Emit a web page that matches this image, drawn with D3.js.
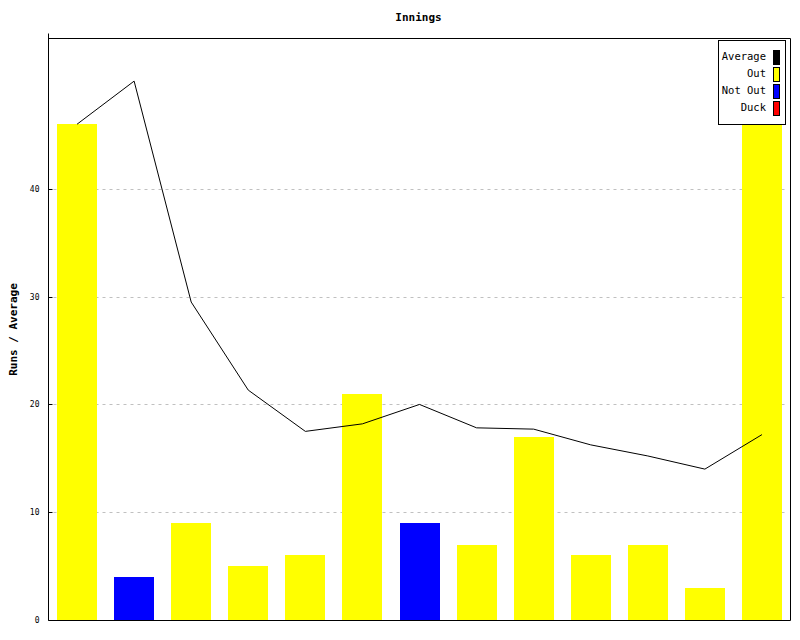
<!DOCTYPE html>
<html><head><meta charset="utf-8">
<script src="https://cdn.jsdelivr.net/npm/d3@7/dist/d3.min.js"></script>
<style>body{margin:0;background:#fff}svg{display:block}</style>
</head><body><svg id="c" width="800" height="640"></svg>
<script>
const innings = ["1","2","3","4","5","6","7","8","9","10","11","12","13"];
const runs = [46, 4, 9, 5, 6, 21, 9, 7, 17, 6, 7, 3, 46];
const status = ["Out","Not Out","Out","Out","Out","Out","Not Out","Out","Out","Out","Out","Out","Out"];
const average = [46, 50, 29.5, 21.33, 17.5, 18.2, 20, 17.83, 17.71, 16.25, 15.22, 14, 17.2];
const yTicks = [0, 10, 20, 30, 40];
const legendItems = ["Average", "Out", "Not Out", "Duck"];
const legendColors = {"Average":"#000000","Out":"#ffff00","Not Out":"#0000ff","Duck":"#ff0000"};

const svg = d3.select("#c");
const L = 48.5, R = 790.5, T = 38.5, B = 620.5;
const x = d3.scaleBand().domain(innings).range([L, R]).paddingInner(0.3).paddingOuter(0.15);
const y = d3.scaleLinear().domain([0, 54]).range([620, 38]);
const mono = "'DejaVu Sans Mono', 'Liberation Mono', monospace";

// gridlines
svg.append("g").selectAll("line").data(yTicks.filter(d => d > 0)).join("line")
  .attr("x1", L + 5).attr("x2", R - 2)
  .attr("y1", d => Math.round(y(d)) + 0.5).attr("y2", d => Math.round(y(d)) + 0.5)
  .attr("stroke", "#c0c0c0").attr("stroke-dasharray", "3,4");

// bars
svg.append("g").selectAll("rect").data(innings).join("rect")
  .attr("x", d => Math.round(x(d)))
  .attr("width", Math.round(x.bandwidth()))
  .attr("y", (d, i) => Math.round(y(runs[i])))
  .attr("height", (d, i) => 620 - Math.round(y(runs[i])))
  .attr("fill", (d, i) => legendColors[runs[i] === 0 ? "Duck" : status[i]]);

// average line
const line = d3.line().x((d, i) => x(innings[i]) + x.bandwidth() / 2).y(d => y(d));
svg.append("path").datum(average).attr("d", line)
  .attr("fill", "none").attr("stroke", "#000").attr("stroke-width", 1);

// plot frame
svg.append("path").attr("d", `M${L},${T - 5}V${B}H${R}V${T}H${L}`)
  .attr("fill", "none").attr("stroke", "#000").attr("stroke-width", 1);

// y axis
const yAxis = d3.axisLeft(y).tickValues(yTicks).tickSize(5).tickFormat(d3.format("d"));
const ga = svg.append("g").attr("transform", `translate(${L},0)`).call(yAxis);
ga.select(".domain").remove();
ga.selectAll(".tick").attr("transform", d => `translate(0,${Math.round(y(d)) + 0.5})`);
ga.selectAll(".tick line").attr("x2", 4).attr("stroke", "#000");
ga.selectAll(".tick text").attr("font-family", mono).attr("font-size", 8).attr("x", -9).attr("fill", "#000");

// title
svg.append("text").attr("x", (L + R) / 2 - 1).attr("y", 21).attr("text-anchor", "middle")
  .attr("font-family", mono).attr("font-weight", "bold").attr("font-size", 11).text("Innings");

// y label
svg.append("text").attr("transform", `translate(17,${(T + B) / 2}) rotate(-90)`)
  .attr("text-anchor", "middle").attr("font-family", mono).attr("font-weight", "bold")
  .attr("font-size", 11).text("Runs / Average");

// legend
const lg = svg.append("g");
lg.append("rect").attr("x", 718.5).attr("y", 40.5).attr("width", 67).attr("height", 84)
  .attr("fill", "#fff").attr("stroke", "#000");
legendItems.forEach((k, i) => {
  const cy = 57.5 + i * 17;
  lg.append("text").attr("x", 766).attr("y", cy + 2.5).attr("text-anchor", "end")
    .attr("font-family", mono).attr("font-size", 10.5).text(k);
  lg.append("rect").attr("x", 773.5).attr("y", cy - 7).attr("width", 6).attr("height", 14)
    .attr("fill", legendColors[k]).attr("stroke", "#000");
});
</script></body></html>
